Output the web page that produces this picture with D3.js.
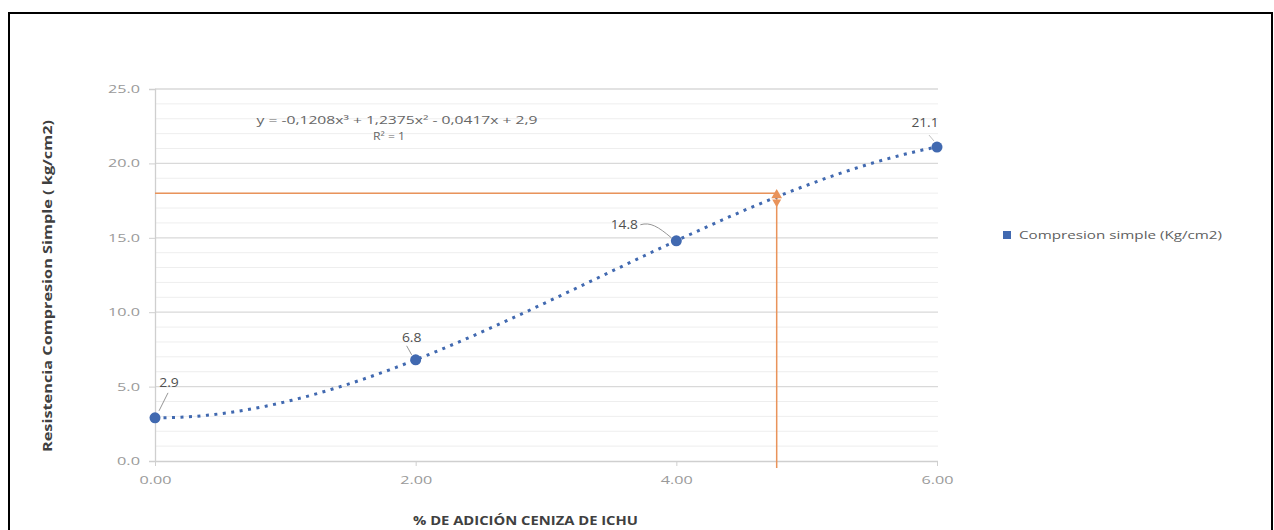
<!DOCTYPE html>
<html><head><meta charset="utf-8">
<script src="https://cdn.jsdelivr.net/npm/d3@7"></script>
<style>body{margin:0;background:#fff}svg{display:block}</style>
</head><body><svg id="c" width="1274" height="530"></svg>
<script>
// data
const xValues = [0, 2, 4, 6];
const yValues = [2.9, 6.8, 14.8, 21.1];
const pointLabels = ["2.9", "6.8", "14.8", "21.1"];
const xTicks = [0, 2, 4, 6];
const xTickLabels = ["0.00", "2.00", "4.00", "6.00"];
const yTicks = [0, 5, 10, 15, 20, 25];
const yTickLabels = ["0.0", "5.0", "10.0", "15.0", "20.0", "25.0"];
const trendCoef = [2.9, -0.0417, 1.2375, -0.1208]; // c0 + c1 x + c2 x^2 + c3 x^3 (from chart equation)
const targetPoint = [4.77, 18.0];
const seriesName = "Compresion simple (Kg/cm2)";
const equationText = ["y = -0,1208x³ + 1,2375x² - 0,0417x + 2,9", "R² = 1"];

const svg = d3.select("#c");
const x = d3.scaleLinear().domain([0, 6]).range([155, 937]);
const y = d3.scaleLinear().domain([0, 25]).range([461, 89]);
const blue = "#4169b0", orange = "#e9935a";
const FONT = "Open Sans, sans-serif";
const widthOf = s => s.split("").reduce((w, c) => w + (c === "." ? 5 : 9), 0);

svg.append("rect").attr("x", 9).attr("y", 13).attr("width", 1263).attr("height", 530)
  .attr("fill", "#fff").attr("stroke", "#000").attr("stroke-width", 2);

// minor grid
svg.append("g").selectAll("line").data(d3.range(1, 25).filter(v => v % 5 !== 0)).join("line")
  .attr("x1", x(0)).attr("x2", 938).attr("y1", d => y(d)).attr("y2", d => y(d))
  .attr("stroke", "#eeeeee").attr("stroke-width", 1);
// major grid
svg.append("g").selectAll("line").data(yTicks.filter(v => v > 0)).join("line")
  .attr("x1", x(0)).attr("x2", 938).attr("y1", d => y(d)).attr("y2", d => y(d))
  .attr("stroke", "#d9d9d9").attr("stroke-width", 1.3);

// axes
const yAxis = d3.axisLeft(y).tickValues(yTicks).tickFormat((d, i) => yTickLabels[i]).tickSize(6).tickPadding(9);
const gy = svg.append("g").attr("transform", `translate(${x(0)},0)`).call(yAxis);
const xAxis = d3.axisBottom(x).tickValues(xTicks).tickFormat((d, i) => xTickLabels[i]).tickSize(5).tickPadding(10);
const gx = svg.append("g").attr("transform", `translate(0,${y(0)})`).call(xAxis);
[gx, gy].forEach(g => {
  g.select(".domain").attr("stroke", "#cfcfcf").attr("stroke-width", 1.3);
  g.selectAll(".tick line").attr("stroke", "#cfcfcf");
  g.selectAll("text").attr("fill", "#9a9a9a").style("font-family", FONT).style("font-size", "11px")
    .attr("textLength", function() { return widthOf(this.textContent); })
    .attr("lengthAdjust", "spacingAndGlyphs");
});
gx.select(".domain").attr("d", `M${x(0)},0.5H938`);

// orange guide lines
svg.append("line").attr("x1", x(0)).attr("x2", x(targetPoint[0])).attr("y1", y(targetPoint[1])).attr("y2", y(targetPoint[1]))
  .attr("stroke", orange).attr("stroke-width", 1.5);
svg.append("line").attr("x1", x(targetPoint[0])).attr("x2", x(targetPoint[0])).attr("y1", y(targetPoint[1])).attr("y2", y(0) + 7)
  .attr("stroke", orange).attr("stroke-width", 1.5);

// trend line
const trendX = d3.range(0, 6.0001, 0.05);
const poly = t => trendCoef.reduce((s, c, i) => s + c * Math.pow(t, i), 0);
svg.append("path").datum(trendX)
  .attr("d", d3.line().x(d => x(d)).y(d => y(poly(d))))
  .attr("fill", "none").attr("stroke", blue).attr("stroke-width", 3)
  .attr("stroke-dasharray", "3,5.5");

// target marker
svg.append("path").attr("d", d3.symbol(d3.symbolTriangle, 50)())
  .attr("transform", `translate(${x(targetPoint[0])},${y(targetPoint[1]) + 2})`).attr("fill", orange);
svg.append("path").attr("d", d3.symbol(d3.symbolTriangle, 35)())
  .attr("transform", `translate(${x(targetPoint[0])},${y(targetPoint[1]) + 9}) rotate(180)`).attr("fill", orange);

// points
const pts = xValues.map((v, i) => ({x: v, y: yValues[i], label: pointLabels[i]}));
svg.append("g").selectAll("circle").data(pts).join("circle")
  .attr("cx", d => x(d.x)).attr("cy", d => y(d.y)).attr("r", 5.5).attr("fill", blue);

// data labels
const labelOffsets = [[14, -34], [-4, -21], [-52, -15], [-12, -24]];
const lbl = svg.append("g").style("font-family", FONT).style("font-size", "13px").attr("fill", "#505050");
pts.forEach((d, i) => {
  const px = x(d.x) + labelOffsets[i][0], py = y(d.y) + labelOffsets[i][1];
  lbl.append("text").attr("x", px).attr("y", py).attr("text-anchor", "middle").attr("dominant-baseline", "middle")
    .attr("textLength", widthOf(d.label) * 0.85).attr("lengthAdjust", "spacingAndGlyphs").text(d.label);
});
// leader lines
const leader = "#8a8a8a";
svg.append("line").attr("x1", x(0) + 13).attr("y1", y(2.9) - 25).attr("x2", x(0) + 4).attr("y2", y(2.9) - 7)
  .attr("stroke", leader).attr("stroke-width", 0.9);
svg.append("line").attr("x1", x(2) - 9).attr("y1", y(6.8) - 14).attr("x2", x(2) - 4).attr("y2", y(6.8) - 5)
  .attr("stroke", leader).attr("stroke-width", 0.9);
svg.append("path").attr("d", `M${x(4) - 36},${y(14.8) - 16} C${x(4) - 26},${y(14.8) - 19} ${x(4) - 18},${y(14.8) - 14} ${x(4) - 5},${y(14.8) - 3}`)
  .attr("fill", "none").attr("stroke", leader).attr("stroke-width", 0.9);
svg.append("line").attr("x1", x(6) - 8).attr("y1", y(21.1) - 12).attr("x2", x(6) - 3).attr("y2", y(21.1) - 6)
  .attr("stroke", "#b0b0b0").attr("stroke-width", 0.8);

// equation
const eq = svg.append("g").style("font-family", FONT).style("font-size", "11px").attr("fill", "#666666");
eq.append("text").attr("x", 397).attr("y", 124).attr("text-anchor", "middle")
  .attr("textLength", 281).attr("lengthAdjust", "spacingAndGlyphs").text(equationText[0]);
eq.append("text").attr("x", 389).attr("y", 140).attr("text-anchor", "middle")
  .attr("textLength", 32).attr("lengthAdjust", "spacingAndGlyphs").text(equationText[1]);

// legend
svg.append("rect").attr("x", 1003).attr("y", 231).attr("width", 8).attr("height", 8).attr("fill", blue);
svg.append("text").attr("x", 1019).attr("y", 239).style("font-family", FONT).style("font-size", "11px")
  .attr("textLength", 203).attr("lengthAdjust", "spacingAndGlyphs")
  .attr("fill", "#606060").text(seriesName);

// axis titles
svg.append("text").attr("transform", "translate(52,286) rotate(-90)").attr("text-anchor", "middle")
  .style("font-family", FONT).style("font-size", "13px").style("font-weight", "bold").attr("fill", "#404040")
  .attr("textLength", 332).attr("lengthAdjust", "spacingAndGlyphs")
  .text("Resistencia Compresion Simple ( kg/cm2)");
svg.append("text").attr("x", 413).attr("y", 525)
  .style("font-family", FONT).style("font-size", "13px").style("font-weight", "bold").attr("fill", "#404040")
  .attr("textLength", 225).attr("lengthAdjust", "spacingAndGlyphs")
  .text("% DE ADICIÓN CENIZA DE ICHU");
</script></body></html>
